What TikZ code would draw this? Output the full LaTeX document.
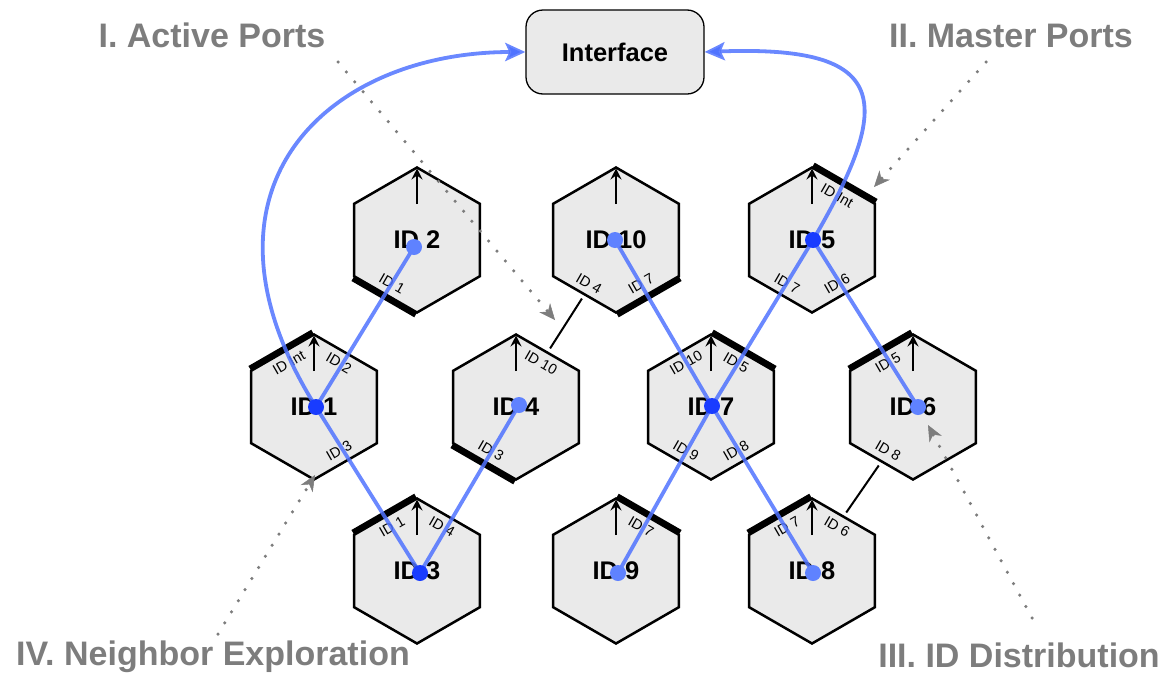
\documentclass[tikz,border=0pt]{standalone}
\usepackage{fontspec}
\setmainfont{Liberation Sans}
\usetikzlibrary{calc,arrows.meta}
\definecolor{hexfill}{RGB}{234,234,234}
\definecolor{linkblue}{RGB}{80,115,255}
\definecolor{dotdark}{RGB}{25,60,255}
\definecolor{dotlight}{RGB}{95,130,255}
\definecolor{notegray}{RGB}{125,125,125}
\newcommand\hexcell[3]{%
  \coordinate (#1) at (#2,#3);
  \coordinate (#1-t) at ($(#1)+(0,-72.5)$);
  \coordinate (#1-ur) at ($(#1)+(62.8,-36.25)$);
  \coordinate (#1-lr) at ($(#1)+(62.8,36.25)$);
  \coordinate (#1-b) at ($(#1)+(0,72.5)$);
  \coordinate (#1-ll) at ($(#1)+(-62.8,36.25)$);
  \coordinate (#1-ul) at ($(#1)+(-62.8,-36.25)$);
  \coordinate (#1-a) at ($(#1)+(0,-36)$);
}
\newcommand\hexdraw[1]{%
  \draw[hexbody] (#1-t) -- (#1-ur) -- (#1-lr) -- (#1-b) -- (#1-ll) -- (#1-ul) -- cycle;
  \draw[uparrow] (#1-a) -- (#1-t);
}
\newcommand\plab[5]{\node[smalllab,rotate=#4] (#1) at ($(#2)+#3$) {#5};}
\begin{document}
\begin{tikzpicture}[x=1pt,y=-1pt,
  hexbody/.style={draw=black, line width=2.5pt, fill=hexfill, line join=miter},
  thickedge/.style={line width=11pt, black},
  biglab/.style={font=\bfseries\fontsize{25.5}{25.5}\selectfont, inner sep=0pt},
  smalllab/.style={font=\fontsize{14.5}{14.5}\selectfont, inner sep=0pt},
  notelab/.style={font=\bfseries\fontsize{34}{34}\selectfont, text=notegray, inner sep=0pt, anchor=base},
  uparrow/.style={line width=2pt, -{Stealth[length=11pt,width=11pt,inset=4pt]}, shorten >=1pt},
  linkline/.style={line width=2pt, shorten <=5pt, shorten >=5pt},
  blueline/.style={line width=3.8pt, draw=linkblue, draw opacity=0.85},
  bluearrow/.style={blueline, -{Stealth[length=20pt,width=18pt,inset=4pt]}},
  notearrow/.style={draw=notegray, line width=3.5pt, line cap=round, dash pattern=on 0pt off 13pt,
     -{Stealth[length=16pt,width=14pt,inset=5pt,line width=0.5pt]}},
]
\useasboundingbox (0,0) rectangle (1169,675);

% cells
\hexcell{h2}{417}{240}
\hexcell{h10}{616}{240}
\hexcell{h5}{812}{240}
\hexcell{h1}{314}{407}
\hexcell{h4}{516}{407}
\hexcell{h7}{711}{407}
\hexcell{h6}{913}{407}
\hexcell{h3}{417}{571}
\hexcell{h9}{616}{571}
\hexcell{h8}{812}{571}

% thick (port) edges, drawn under the bodies
\draw[thickedge] (h2-ll) -- (h2-b);
\draw[thickedge] (h1-ul) -- (h1-t);
\draw[thickedge] (h4-ll) -- (h4-b);
\draw[thickedge] (h10-b) -- (h10-lr);
\draw[thickedge] (h5-t) -- (h5-ur);
\draw[thickedge] (h7-t) -- (h7-ur);
\draw[thickedge] (h6-ul) -- (h6-t);
\draw[thickedge] (h3-ul) -- (h3-t);
\draw[thickedge] (h9-t) -- (h9-ur);
\draw[thickedge] (h8-ul) -- (h8-t);

\foreach \h in {h2,h10,h5,h1,h4,h7,h6,h3,h9,h8} {\hexdraw{\h}}

% links between cells
\draw[linkline] ($(h10-ll)!0.5!(h10-b)$) -- ($(h4-t)!0.5!(h4-ur)$);
\draw[linkline] ($(h6-ll)!0.5!(h6-b)$) -- ($(h8-t)!0.5!(h8-ur)$);

% main labels
\node[biglab] (l2) at (h2) {ID 2};
\node[biglab] (l10) at (h10) {ID 10};
\node[biglab] (l5) at (h5) {ID 5};
\node[biglab] (l1) at (h1) {ID 1};
\node[biglab] (l4) at (h4) {ID 4};
\node[biglab] (l7) at (h7) {ID 7};
\node[biglab] (l6) at (h6) {ID 6};
\node[biglab] (l3) at (h3) {ID 3};
\node[biglab] (l9) at (h9) {ID 9};
\node[biglab] (l8) at (h8) {ID 8};

% port labels
\plab{p2a}{h2}{(-25,44)}{-30}{ID 1}
\plab{p1a}{h1}{(-25,-44)}{30}{ID Int}
\plab{p1b}{h1}{(25,-44)}{-30}{ID 2}
\plab{p1c}{h1}{(25,44)}{30}{ID 3}
\plab{p4a}{h4}{(25,-44)}{-30}{ID 10}
\plab{p4b}{h4}{(-25,44)}{-30}{ID 3}
\plab{p10a}{h10}{(-27,44)}{-30}{ID 4}
\plab{p10b}{h10}{(25,44)}{30}{ID 7}
\plab{p5a}{h5}{(25,-44)}{-30}{ID Int}
\plab{p5b}{h5}{(-25,44)}{-30}{ID 7}
\plab{p5c}{h5}{(25,44)}{30}{ID 6}
\plab{p7a}{h7}{(-25,-44)}{30}{ID 10}
\plab{p7b}{h7}{(25,-44)}{-30}{ID 5}
\plab{p7c}{h7}{(-25,44)}{-30}{ID 9}
\plab{p7d}{h7}{(25,44)}{30}{ID 8}
\plab{p6a}{h6}{(-25,-44)}{30}{ID 5}
\plab{p6b}{h6}{(-25,44)}{-30}{ID 8}
\plab{p3a}{h3}{(-25,-44)}{30}{ID 1}
\plab{p3b}{h3}{(25,-44)}{-30}{ID 4}
\plab{p9a}{h9}{(25,-44)}{-30}{ID 7}
\plab{p8a}{h8}{(-25,-44)}{30}{ID 7}
\plab{p8b}{h8}{(25,-44)}{-30}{ID 6}

% interface
\node[draw, line width=1.3pt, fill=hexfill, rounded corners=17pt, minimum width=178pt,
      minimum height=84pt, inner sep=0pt, font=\bfseries\fontsize{25.5}{25.5}\selectfont] (iface) at (615,52) {Interface};

% dot positions
\coordinate (d1) at (316,407);
\coordinate (d2) at (414,247);
\coordinate (d3) at (420,573);
\coordinate (d4) at (519,405);
\coordinate (d10) at (615,240);
\coordinate (d5) at (813,240);
\coordinate (d7) at (712,406);
\coordinate (d6) at (918,407);
\coordinate (d9) at (618,573);
\coordinate (d8) at (813,573);

% blue routes
\draw[bluearrow] (d3) -- (d1) .. controls (180,190) and (326,52) .. (iface.west);
\draw[blueline] (d1) -- (d2);
\draw[blueline] (d3) -- (d4);
\draw[bluearrow] (d9) -- (d7) -- (d5) .. controls (895,100) and (890,45) .. (iface.east);
\draw[blueline] (d10) -- (d7) -- (d8);
\draw[blueline] (d5) -- (d6);

\foreach \d in {d1,d3,d5,d7} {\fill[dotdark] (\d) circle (8);}
\foreach \d in {d2,d4,d10,d6,d9,d8} {\fill[dotlight] (\d) circle (8);}

% notes
\node[notelab] (n1) at (212,47) {I. Active Ports};
\node[notelab] (n2) at (1011,47) {II. Master Ports};
\node[notelab] (n3) at (1019,667) {III. ID Distribution};
\node[notelab] (n4) at (213,665) {IV. Neighbor Exploration};

\coordinate (s1) at (338,62);
\coordinate (e1) at (555,320);
\coordinate (s2) at (986,62);
\coordinate (e2) at (874,187);
\coordinate (s3) at (1032,618);
\coordinate (e3) at (928,425);
\coordinate (s4) at (218,634);
\coordinate (e4) at (315,475);
\draw[notearrow] (s1) -- (e1);
\draw[notearrow] (s2) -- (e2);
\draw[notearrow] (s3) -- (e3);
\draw[notearrow] (s4) -- (e4);
\end{tikzpicture}
\end{document}
